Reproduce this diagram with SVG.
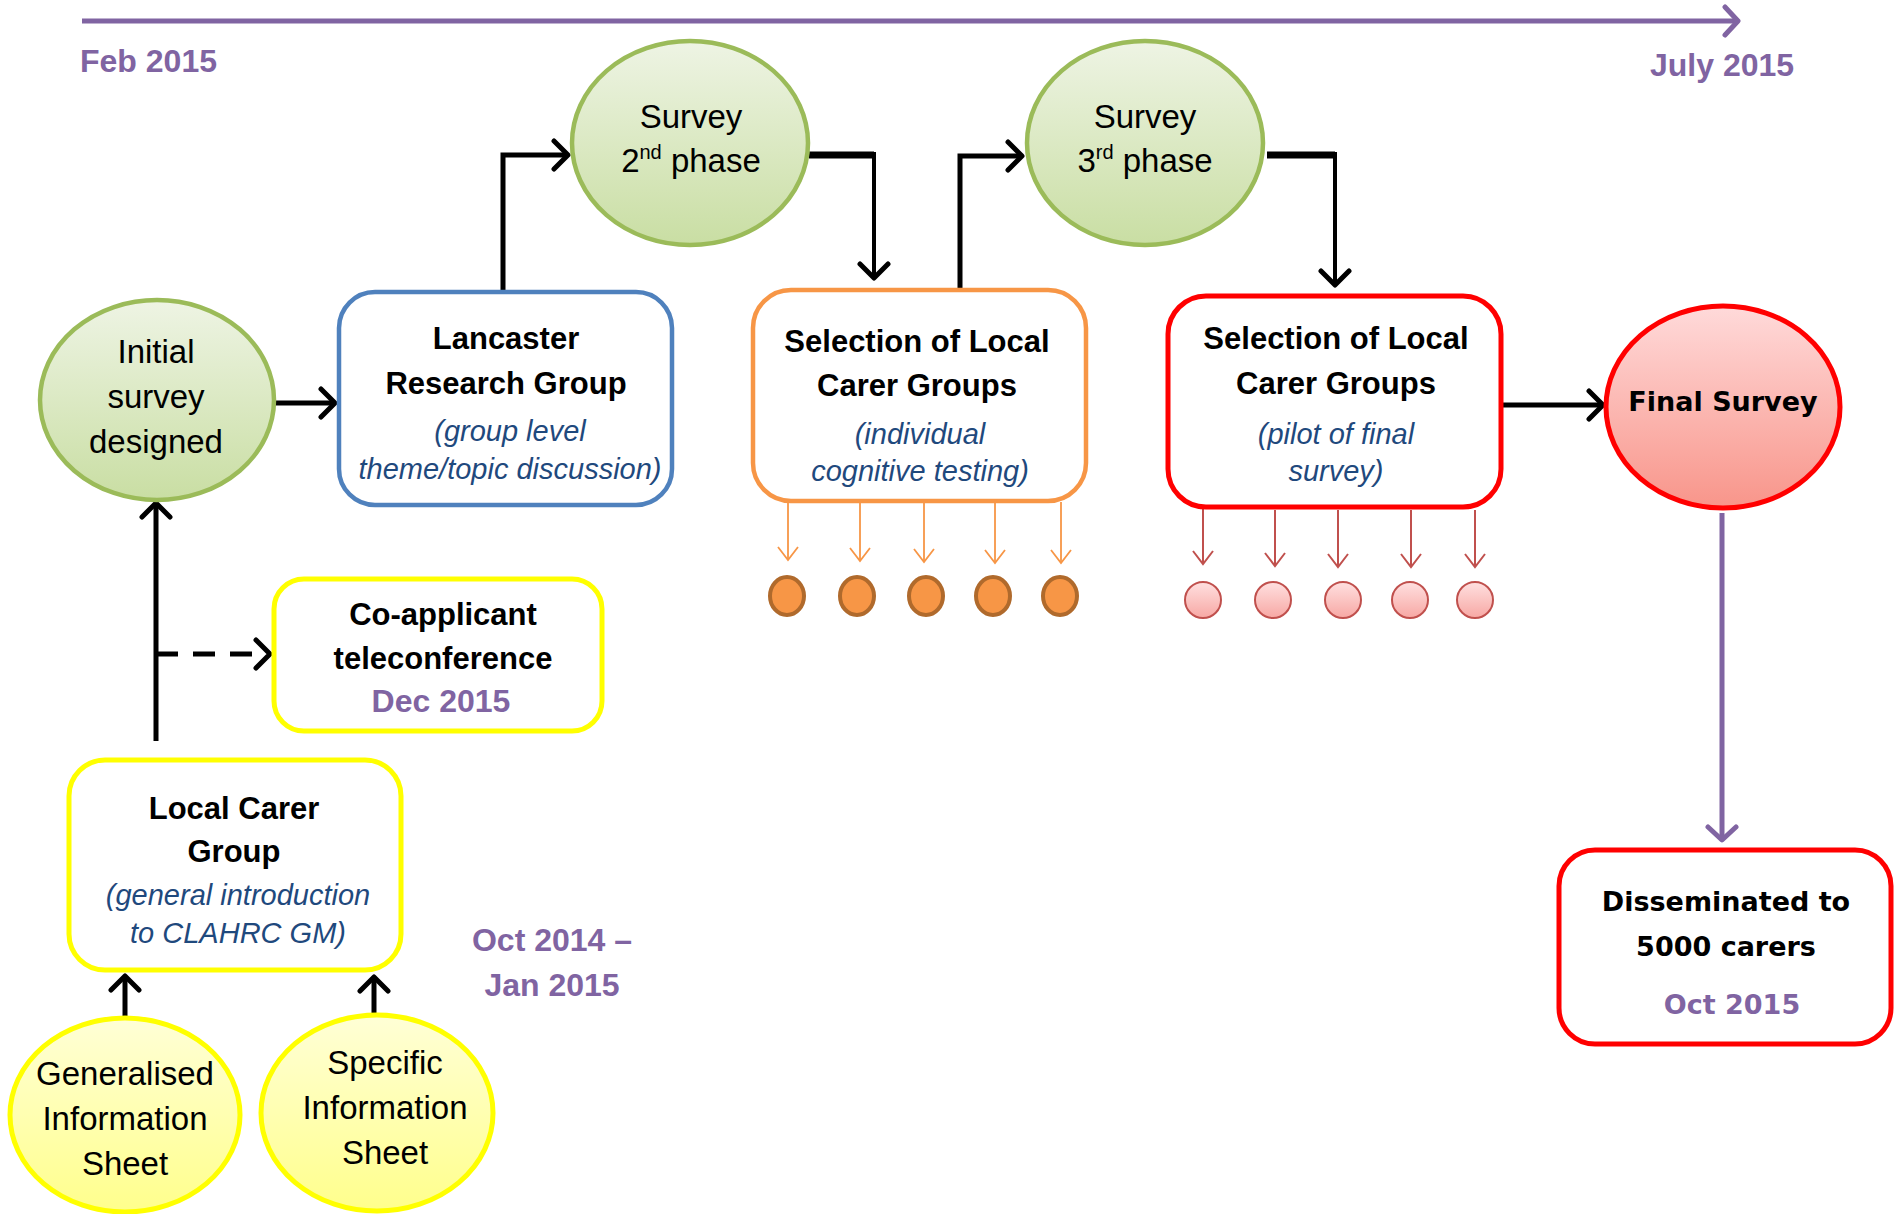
<svg xmlns="http://www.w3.org/2000/svg" width="1899" height="1214" viewBox="0 0 1899 1214">
<style>
text{font-family:"Liberation Sans",Arial,sans-serif;text-anchor:middle}
.b{font-weight:bold;font-size:31px;fill:#000}
.r{font-size:33px;fill:#000}
.i{font-style:italic;font-size:29px;fill:#1F497D}
.p{font-weight:bold;font-size:32px;fill:#8064A2}
.v{font-family:"DejaVu Sans",Verdana,sans-serif;font-weight:bold;font-size:27px;fill:#000}
.vp{font-family:"DejaVu Sans",Verdana,sans-serif;font-weight:bold;font-size:27px;fill:#8064A2}
.con{fill:none;stroke:#000;stroke-width:5}
.box{fill:#fff;stroke-width:4.5}
</style>
<defs>
<linearGradient id="gG" x1="0" y1="0" x2="0" y2="1"><stop offset="0" stop-color="#EEF4E4"/><stop offset="1" stop-color="#C9DEA3"/></linearGradient>
<linearGradient id="gY" x1="0" y1="0" x2="0" y2="1"><stop offset="0" stop-color="#FFFFD6"/><stop offset="1" stop-color="#FFFF8C"/></linearGradient>
<linearGradient id="gR" x1="0" y1="0" x2="0" y2="1"><stop offset="0" stop-color="#FFDADA"/><stop offset="1" stop-color="#F8958A"/></linearGradient>
<linearGradient id="gR2" x1="0" y1="0" x2="0" y2="1"><stop offset="0" stop-color="#FFE0E0"/><stop offset="1" stop-color="#F7A8A4"/></linearGradient>
<marker id="ak" markerUnits="userSpaceOnUse" markerWidth="30" markerHeight="36" refX="17" refY="17" orient="auto" viewBox="0 0 30 36"><path d="M3,3 L17,17 L3,31" fill="none" stroke="#000" stroke-width="5" stroke-linecap="round" stroke-linejoin="round"/></marker>
<marker id="ap" markerUnits="userSpaceOnUse" markerWidth="30" markerHeight="40" refX="16" refY="18" orient="auto" viewBox="0 0 30 40"><path d="M3,4 L16,18 L3,32" fill="none" stroke="#8064A2" stroke-width="5" stroke-linecap="round" stroke-linejoin="round"/></marker>
<marker id="ao" markerUnits="userSpaceOnUse" markerWidth="20" markerHeight="26" refX="14" refY="13" orient="auto" viewBox="0 0 20 26"><path d="M1,3 L14,13 L1,23" fill="none" stroke="#F79646" stroke-width="1.8"/></marker>
<marker id="ar" markerUnits="userSpaceOnUse" markerWidth="20" markerHeight="26" refX="14" refY="13" orient="auto" viewBox="0 0 20 26"><path d="M1,3 L14,13 L1,23" fill="none" stroke="#C0504D" stroke-width="2"/></marker>
</defs>

<g id="timeline">
<line x1="82" y1="21" x2="1738" y2="21" stroke="#8064A2" stroke-width="5" marker-end="url(#ap)"/>
<text class="p" x="80" y="72" style="text-anchor:start">Feb 2015</text>
<text class="p" x="1650" y="76" style="text-anchor:start">July 2015</text>
<text class="p" x="552" y="951">Oct 2014 –</text>
<text class="p" x="552" y="996">Jan 2015</text>
</g>

<g id="connectors">
<line class="con" x1="274" y1="403" x2="335" y2="403" marker-end="url(#ak)"/>
<polyline class="con" points="503,290 503,155 568,155" marker-end="url(#ak)"/>
<polyline class="con" points="809,155 874,155" style="stroke-width:7"/>
<polyline class="con" points="874,152 874,278" style="stroke-width:4" marker-end="url(#ak)"/>
<polyline class="con" points="960,288 960,156 1022,156" marker-end="url(#ak)"/>
<polyline class="con" points="1267,155 1335,155" style="stroke-width:7"/>
<polyline class="con" points="1335,152 1335,285" style="stroke-width:4" marker-end="url(#ak)"/>
<line class="con" x1="1502" y1="405" x2="1603" y2="405" marker-end="url(#ak)"/>
<line x1="1722" y1="513" x2="1722" y2="840" stroke="#8064A2" stroke-width="5" marker-end="url(#ap)"/>
<line class="con" x1="156" y1="741" x2="156" y2="503" marker-end="url(#ak)"/>
<line class="con" x1="156" y1="654" x2="270" y2="654" stroke-dasharray="22,15" marker-end="url(#ak)"/>
<line class="con" x1="125" y1="1018" x2="125" y2="976" marker-end="url(#ak)"/>
<line class="con" x1="374" y1="1018" x2="374" y2="977" marker-end="url(#ak)"/>
<g stroke="#F79646" stroke-width="1.8" fill="none">
<line x1="788" y1="502" x2="788" y2="560" marker-end="url(#ao)"/>
<line x1="860" y1="502" x2="860" y2="561" marker-end="url(#ao)"/>
<line x1="924" y1="502" x2="924" y2="562" marker-end="url(#ao)"/>
<line x1="995" y1="502" x2="995" y2="563" marker-end="url(#ao)"/>
<line x1="1061" y1="502" x2="1061" y2="563" marker-end="url(#ao)"/>
</g>
<g stroke="#C0504D" stroke-width="2" fill="none">
<line x1="1203" y1="508" x2="1203" y2="564" marker-end="url(#ar)"/>
<line x1="1275" y1="510" x2="1275" y2="566" marker-end="url(#ar)"/>
<line x1="1338" y1="510" x2="1338" y2="567" marker-end="url(#ar)"/>
<line x1="1411" y1="510" x2="1411" y2="567" marker-end="url(#ar)"/>
<line x1="1475" y1="510" x2="1475" y2="567" marker-end="url(#ar)"/>
</g>
</g>

<g id="initial-survey">
<ellipse cx="157" cy="400" rx="117" ry="100" fill="url(#gG)" stroke="#9BBB59" stroke-width="4.5"/>
<text class="r" x="156" y="363">Initial</text>
<text class="r" x="156" y="408">survey</text>
<text class="r" x="156" y="453">designed</text>
</g>

<g id="survey-2nd">
<ellipse cx="690" cy="143" rx="118" ry="102" fill="url(#gG)" stroke="#9BBB59" stroke-width="4.5"/>
<text class="r" x="691" y="128">Survey</text>
<text class="r" x="691" y="172">2<tspan font-size="20" dy="-13">nd</tspan><tspan dy="13"> phase</tspan></text>
</g>

<g id="survey-3rd">
<ellipse cx="1145" cy="143" rx="118" ry="102" fill="url(#gG)" stroke="#9BBB59" stroke-width="4.5"/>
<text class="r" x="1145" y="128">Survey</text>
<text class="r" x="1145" y="172">3<tspan font-size="20" dy="-13">rd</tspan><tspan dy="13"> phase</tspan></text>
</g>

<g id="lancaster">
<rect class="box" x="339" y="292" width="333" height="213" rx="36" stroke="#4F81BD"/>
<text class="b" x="506" y="349">Lancaster</text>
<text class="b" x="506" y="394">Research Group</text>
<text class="i" x="510" y="441">(group level</text>
<text class="i" x="510" y="479">theme/topic discussion)</text>
</g>

<g id="selection-orange">
<rect class="box" x="753" y="290" width="333" height="211" rx="38" stroke="#F79646"/>
<text class="b" x="917" y="352">Selection of Local</text>
<text class="b" x="917" y="396">Carer Groups</text>
<text class="i" x="920" y="444">(individual</text>
<text class="i" x="920" y="481">cognitive testing)</text>
</g>

<g id="orange-groups" fill="#F79646" stroke="#B06A2C" stroke-width="4">
<ellipse cx="787" cy="596" rx="17" ry="19"/>
<ellipse cx="857" cy="596" rx="17" ry="19"/>
<ellipse cx="926" cy="596" rx="17" ry="19"/>
<ellipse cx="993" cy="596" rx="17" ry="19"/>
<ellipse cx="1060" cy="596" rx="17" ry="19"/>
</g>

<g id="selection-red">
<rect class="box" x="1168" y="296" width="333" height="211" rx="38" stroke="#FF0000" style="stroke-width:5"/>
<text class="b" x="1336" y="349">Selection of Local</text>
<text class="b" x="1336" y="394">Carer Groups</text>
<text class="i" x="1336" y="444">(pilot of final</text>
<text class="i" x="1336" y="481">survey)</text>
</g>

<g id="red-groups" fill="url(#gR2)" stroke="#C0504D" stroke-width="2">
<ellipse cx="1203" cy="600" rx="18" ry="18"/>
<ellipse cx="1273" cy="600" rx="18" ry="18"/>
<ellipse cx="1343" cy="600" rx="18" ry="18"/>
<ellipse cx="1410" cy="600" rx="18" ry="18"/>
<ellipse cx="1475" cy="600" rx="18" ry="18"/>
</g>

<g id="final-survey">
<ellipse cx="1723" cy="407" rx="117" ry="101" fill="url(#gR)" stroke="#FF0000" stroke-width="5"/>
<text class="v" x="1723" y="411">Final Survey</text>
</g>

<g id="disseminated">
<rect class="box" x="1559" y="850" width="332" height="194" rx="36" stroke="#FF0000" style="stroke-width:5"/>
<text class="v" x="1726" y="911">Disseminated to</text>
<text class="v" x="1726" y="956">5000 carers</text>
<text class="vp" x="1732" y="1014">Oct 2015</text>
</g>

<g id="co-applicant">
<rect class="box" x="274" y="579" width="328" height="152" rx="30" stroke="#FFFF00" style="stroke-width:5"/>
<text class="b" x="443" y="625">Co-applicant</text>
<text class="b" x="443" y="669">teleconference</text>
<text class="p" x="441" y="712">Dec 2015</text>
</g>

<g id="local-carer-group">
<rect class="box" x="69" y="760" width="332" height="210" rx="36" stroke="#FFFF00" style="stroke-width:5"/>
<text class="b" x="234" y="819">Local Carer</text>
<text class="b" x="234" y="862">Group</text>
<text class="i" x="238" y="905">(general introduction</text>
<text class="i" x="238" y="943">to CLAHRC GM)</text>
</g>

<g id="generalised-sheet">
<ellipse cx="125" cy="1115" rx="115" ry="97" fill="url(#gY)" stroke="#FFFF00" stroke-width="5"/>
<text class="r" x="125" y="1085">Generalised</text>
<text class="r" x="125" y="1130">Information</text>
<text class="r" x="125" y="1175">Sheet</text>
</g>

<g id="specific-sheet">
<ellipse cx="377" cy="1113" rx="116" ry="98" fill="url(#gY)" stroke="#FFFF00" stroke-width="5"/>
<text class="r" x="385" y="1074">Specific</text>
<text class="r" x="385" y="1119">Information</text>
<text class="r" x="385" y="1164">Sheet</text>
</g>
</svg>
